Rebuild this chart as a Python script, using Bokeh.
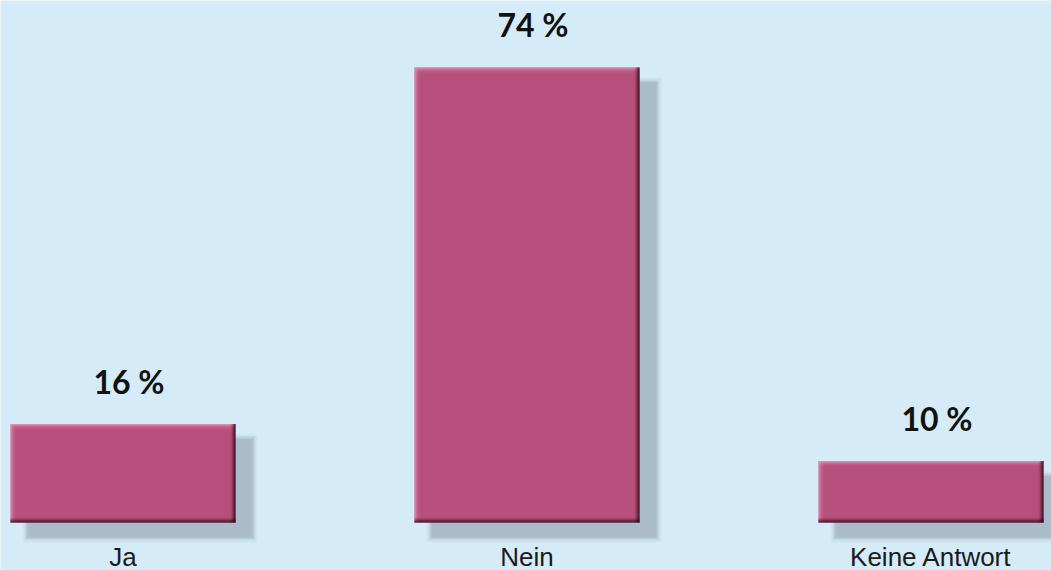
from bokeh.plotting import figure
from bokeh.models import Range1d, ColumnDataSource
from bokeh.core.properties import value
from bokeh.embed import file_html
from bokeh.resources import INLINE

categories = ["Ja", "Nein", "Keine Antwort"]
values = [16, 74, 10]
value_labels = ["16 %", "74 %", "10 %"]

W, H = 1051, 570
x0 = -122.5 / 404.0
x1 = x0 + W / 404.0
y0 = -48 / 6.15
y1 = y0 + H / 6.15
px = (x1 - x0) / W      # data units per screen pixel, x
py = (y1 - y0) / H      # data units per screen pixel, y

p = figure(width=W, height=H, output_backend="svg", toolbar_location=None,
           x_range=Range1d(x0, x1), y_range=Range1d(y0, y1),
           min_border=0, min_border_left=0, min_border_right=0,
           min_border_top=0, min_border_bottom=0)
p.axis.visible = False
p.grid.visible = False
p.outline_line_color = None
p.background_fill_color = "#d5ebf8"
p.border_fill_color = "#d5ebf8"

xs = list(range(len(categories)))
bw = 225 * px
lefts = [x - bw / 2 for x in xs]
rights = [x + bw / 2 for x in xs]
tops = values
bottoms = [0] * len(values)

# soft shadow
sdx, sdy = 17 * px, -15 * py
for k, a in [(5, 0.15), (3, 0.3), (1.5, 0.5)]:
    p.quad(left=[l + sdx - k * px for l in lefts], right=[r + sdx + k * px for r in rights],
           top=[t + sdy + k * py for t in tops], bottom=[b + sdy - k * py for b in bottoms],
           fill_color="#a9bcc8", fill_alpha=a, line_color=None)
p.quad(left=[l + sdx for l in lefts], right=[r + sdx for r in rights],
       top=[t + sdy for t in tops], bottom=[b + sdy for b in bottoms],
       fill_color="#a9bcc8", line_color=None)

# bars
p.quad(left=lefts, right=rights, top=tops, bottom=bottoms,
       fill_color="#b8507e", line_color=None)

# bevel: light top/left, dark bottom/right
light = "#e3a3c2"
dark = "#2a0816"
for i, a in enumerate([0.75, 0.5, 0.3, 0.15, 0.07]):
    p.quad(left=lefts, right=rights,
           top=[t - i * py for t in tops], bottom=[t - (i + 1) * py for t in tops],
           fill_color=light, fill_alpha=a, line_color=None)
    p.quad(left=[l + i * px for l in lefts], right=[l + (i + 1) * px for l in lefts],
           top=tops, bottom=bottoms,
           fill_color=light, fill_alpha=a, line_color=None)
for i, a in enumerate([0.95, 0.75, 0.45, 0.22, 0.08]):
    p.quad(left=[r - (i + 1) * px for r in rights], right=[r - i * px for r in rights],
           top=tops, bottom=bottoms,
           fill_color=dark, fill_alpha=a, line_color=None)
    p.quad(left=lefts, right=rights,
           top=[b + (i + 1) * py for b in bottoms], bottom=[b + i * py for b in bottoms],
           fill_color=dark, fill_alpha=a, line_color=None)

# value labels
src = ColumnDataSource(dict(x=xs, y=values, lab=value_labels))
p.text(x="x", y="y", text="lab", source=src, x_offset=6, y_offset=-43,
       text_align="center", text_baseline="middle",
       text_font=value("Lato"), text_font_style="bold", text_font_size="32px",
       text_color="#111111")

# category labels
csrc = ColumnDataSource(dict(x=xs, y=[y0] * len(xs), lab=categories))
p.text(x="x", y="y", text="lab", source=csrc, y_offset=-14,
       text_align="center", text_baseline="middle",
       text_font=value("Liberation Sans"), text_font_size="26px",
       text_color="#1a1a1a")

open("out.html", "w").write(file_html(p, INLINE))
